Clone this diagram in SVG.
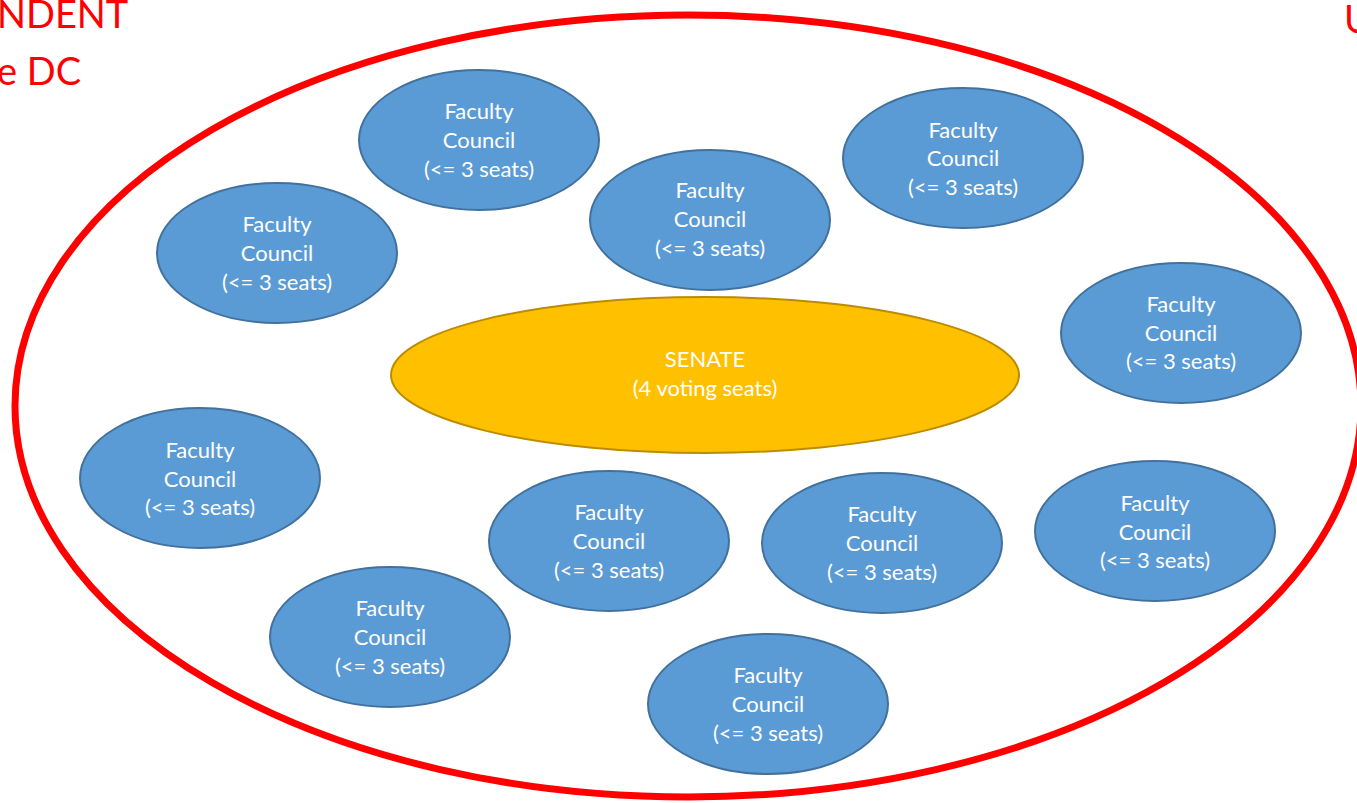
<svg xmlns="http://www.w3.org/2000/svg" width="1357" height="803" viewBox="0 0 1357 803">
<style>
.fc{fill:#5B9BD5;stroke:#41719C;stroke-width:2}
.sen{fill:#FFC000;stroke:#BC8C00;stroke-width:2}
.t{font-family:Lato,"Open Sans",sans-serif;font-size:22px;fill:#fff;text-anchor:middle}
.red{font-family:Lato,"Open Sans",sans-serif;font-size:38px;fill:#FF0000}
</style>
<rect width="1357" height="803" fill="#fff"/>
<text class="red" x="-3" y="28">NDENT</text>
<text class="red" x="-3" y="85">e DC</text>
<text class="red" x="1344" y="33">U</text>
<ellipse id="boundary" cx="688" cy="406" rx="673" ry="391" fill="none" stroke="#FF0000" stroke-width="7"/>
<g id="senate"><ellipse class="sen" cx="705" cy="375" rx="314" ry="78"/><text class="t" x="705" y="367">SENATE</text><text class="t" x="705" y="396">(4 voting seats)</text></g>
<g id="fc1"><ellipse class="fc" cx="479" cy="140" rx="120" ry="70"/><text class="t" x="479" y="119">Faculty</text><text class="t" x="479" y="148">Council</text><text class="t" x="479" y="177">(&lt;= 3 seats)</text></g>
<g id="fc2"><ellipse class="fc" cx="277" cy="253" rx="120" ry="70"/><text class="t" x="277" y="232">Faculty</text><text class="t" x="277" y="261">Council</text><text class="t" x="277" y="290">(&lt;= 3 seats)</text></g>
<g id="fc3"><ellipse class="fc" cx="710" cy="220" rx="120" ry="70"/><text class="t" x="710" y="198">Faculty</text><text class="t" x="710" y="227">Council</text><text class="t" x="710" y="256">(&lt;= 3 seats)</text></g>
<g id="fc4"><ellipse class="fc" cx="963" cy="158" rx="120" ry="70"/><text class="t" x="963" y="138">Faculty</text><text class="t" x="963" y="166">Council</text><text class="t" x="963" y="195">(&lt;= 3 seats)</text></g>
<g id="fc5"><ellipse class="fc" cx="1181" cy="333" rx="120" ry="70"/><text class="t" x="1181" y="312">Faculty</text><text class="t" x="1181" y="341">Council</text><text class="t" x="1181" y="369">(&lt;= 3 seats)</text></g>
<g id="fc6"><ellipse class="fc" cx="200" cy="478" rx="120" ry="70"/><text class="t" x="200" y="458">Faculty</text><text class="t" x="200" y="487">Council</text><text class="t" x="200" y="515">(&lt;= 3 seats)</text></g>
<g id="fc7"><ellipse class="fc" cx="609" cy="541" rx="120" ry="70"/><text class="t" x="609" y="520">Faculty</text><text class="t" x="609" y="549">Council</text><text class="t" x="609" y="578">(&lt;= 3 seats)</text></g>
<g id="fc8"><ellipse class="fc" cx="882" cy="543" rx="120" ry="70"/><text class="t" x="882" y="522">Faculty</text><text class="t" x="882" y="551">Council</text><text class="t" x="882" y="580">(&lt;= 3 seats)</text></g>
<g id="fc9"><ellipse class="fc" cx="1155" cy="531" rx="120" ry="70"/><text class="t" x="1155" y="511">Faculty</text><text class="t" x="1155" y="540">Council</text><text class="t" x="1155" y="568">(&lt;= 3 seats)</text></g>
<g id="fc10"><ellipse class="fc" cx="390" cy="637" rx="120" ry="70"/><text class="t" x="390" y="616">Faculty</text><text class="t" x="390" y="645">Council</text><text class="t" x="390" y="674">(&lt;= 3 seats)</text></g>
<g id="fc11"><ellipse class="fc" cx="768" cy="704" rx="120" ry="70"/><text class="t" x="768" y="683">Faculty</text><text class="t" x="768" y="712">Council</text><text class="t" x="768" y="741">(&lt;= 3 seats)</text></g>
<g id="connectors"></g>
</svg>
